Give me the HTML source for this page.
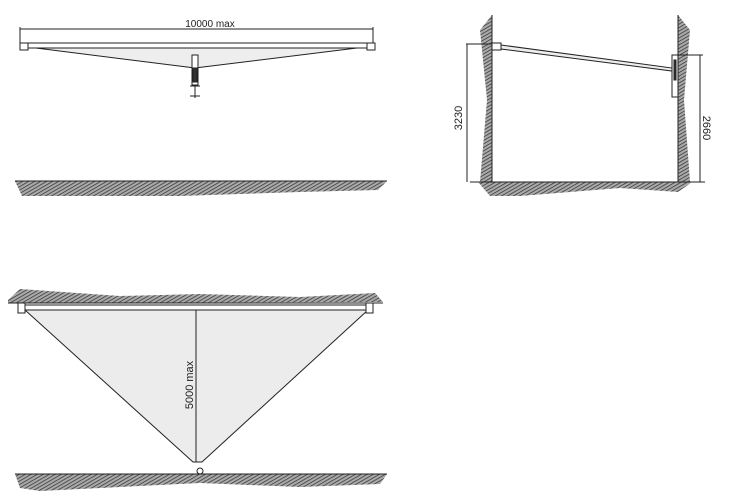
<!DOCTYPE html>
<html><head><style>body{margin:0;background:#fff}svg{display:block}text{font-family:"Liberation Sans",sans-serif;fill:#222}</style></head><body>
<svg width="750" height="500" viewBox="0 0 750 500" xmlns="http://www.w3.org/2000/svg">
<defs><pattern id="h" width="3" height="3" patternUnits="userSpaceOnUse" patternTransform="rotate(60)"><rect width="3" height="3" fill="#aaa"/><line x1="0" y1="0" x2="0" y2="3" stroke="#333" stroke-width="1.5"/></pattern></defs>
<g stroke="#222" stroke-width="1" fill="none">
<line x1="20" y1="29" x2="373" y2="29"/><line x1="20" y1="27" x2="20" y2="47"/><line x1="373" y1="27" x2="373" y2="47"/>
<polygon points="28,47 195,68 365,47" fill="#eeeeee"/>
<rect x="20" y="43" width="355" height="5" fill="#fff"/>
<rect x="20" y="43" width="8" height="7" fill="#fff"/><rect x="367" y="43" width="8" height="7" fill="#fff"/>
<rect x="192" y="55" width="6" height="30" fill="#fff"/><rect x="193" y="68" width="4" height="14" fill="#333"/>
<line x1="190" y1="86" x2="200" y2="86"/><line x1="195" y1="85" x2="195" y2="98"/><line x1="190" y1="96" x2="200" y2="96"/>
<polygon points="15,181 387,181 378,190 300,192 180,196 22,196" fill="url(#h)" stroke="none"/><line x1="15" y1="181" x2="387" y2="181"/>
<polygon points="492,15 480,30 487,100 480,182 492,182" fill="url(#h)" stroke="none"/>
<polygon points="678,15 690,30 684,100 690,182 678,182" fill="url(#h)" stroke="none"/>
<polygon points="478,182 692,182 678,192 620,188 520,196 490,196" fill="url(#h)" stroke="none"/>
<line x1="492" y1="15" x2="492" y2="182"/><line x1="678" y1="15" x2="678" y2="182"/><line x1="470" y1="182" x2="705" y2="182"/>
<line x1="466" y1="44" x2="500" y2="44"/><line x1="467" y1="44" x2="467" y2="182"/>
<line x1="678" y1="55" x2="703" y2="55"/><line x1="700" y1="55" x2="700" y2="182"/>
<rect x="492" y="43" width="9" height="7" fill="#fff"/>
<polygon points="501,45 672,68 672,71 501,49" fill="#eee"/>
<rect x="672" y="55" width="6" height="42" fill="#fff"/><rect x="674" y="60" width="2" height="20" fill="#333"/>
</g>
<text transform="translate(462,118) rotate(-90)" font-size="11" text-anchor="middle">3230</text>
<text transform="translate(703,128) rotate(90)" font-size="11" text-anchor="middle">2660</text>
<text x="210" y="27" font-size="10" text-anchor="middle">10000 max</text>
<g stroke="#222" stroke-width="1" fill="none">
<polygon points="8,300 20,289 120,296 200,294 300,297 375,293 383,302 8,303" fill="url(#h)" stroke="none"/>
<line x1="8" y1="303" x2="383" y2="303"/>
<polygon points="25,310 193,462 202,462 368,310" fill="#ececec"/>
<rect x="18" y="305" width="355" height="5" fill="#fff"/>
<rect x="18" y="303" width="7" height="10" fill="#fff"/><rect x="366" y="303" width="7" height="10" fill="#fff"/>
<line x1="196" y1="310" x2="196" y2="462"/>
<circle cx="200" cy="471" r="3" fill="#fff"/>
<polygon points="15,474 387,474 380,484 300,487 200,483 40,491 20,488" fill="url(#h)" stroke="none"/>
<line x1="15" y1="474" x2="387" y2="474"/>
</g>
<text transform="translate(193,385) rotate(-90)" font-size="11" text-anchor="middle">5000 max</text>
</svg>
</body></html>
